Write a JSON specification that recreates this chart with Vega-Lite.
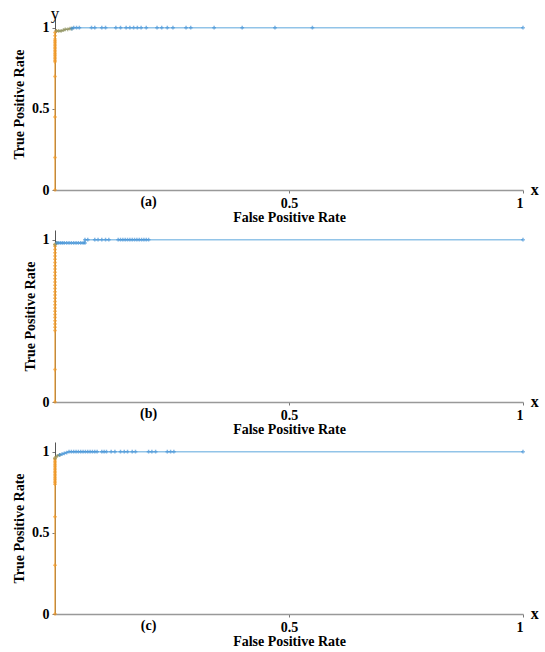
{
  "$schema": "https://vega.github.io/schema/vega-lite/v6.json",
  "padding": {"left": 12, "top": 4, "right": 4, "bottom": 0},
  "spacing": 6,
  "config": {
    "font": "Times New Roman",
    "view": {"stroke": null},
    "axis": {
      "labelFont": "Times New Roman", "titleFont": "Times New Roman",
      "labelFontSize": 14, "labelFontWeight": "bold", "labelColor": "#000",
      "titleFontSize": 14, "titleFontWeight": "bold", "titleColor": "#000",
      "grid": false, "tickSize": 3, "tickColor": "#777"
    }
  },
  "datasets": {
    "a": [
      {"i":0,"fpr":0,"tpr":0,"part":"o"},{"i":1,"fpr":0,"tpr":0.2,"part":"o"},{"i":2,"fpr":0,"tpr":0.45,"part":"o"},{"i":3,"fpr":0,"tpr":0.7,"part":"o"},
      {"i":4,"fpr":0,"tpr":0.79,"part":"o"},{"i":5,"fpr":0,"tpr":0.8,"part":"o"},{"i":6,"fpr":0,"tpr":0.81,"part":"o"},{"i":7,"fpr":0,"tpr":0.82,"part":"o"},
      {"i":8,"fpr":0,"tpr":0.83,"part":"o"},{"i":9,"fpr":0,"tpr":0.84,"part":"o"},{"i":10,"fpr":0,"tpr":0.85,"part":"o"},{"i":11,"fpr":0,"tpr":0.86,"part":"o"},
      {"i":12,"fpr":0,"tpr":0.87,"part":"o"},{"i":13,"fpr":0,"tpr":0.88,"part":"o"},{"i":14,"fpr":0,"tpr":0.89,"part":"o"},{"i":15,"fpr":0,"tpr":0.9,"part":"o"},
      {"i":16,"fpr":0,"tpr":0.91,"part":"o"},{"i":17,"fpr":0,"tpr":0.92,"part":"o"},{"i":18,"fpr":0,"tpr":0.93,"part":"o"},{"i":19,"fpr":0,"tpr":0.95,"part":"o"},
      {"i":20,"fpr":0,"tpr":0.97,"part":"o"},{"i":21,"fpr":0.003,"tpr":0.98,"part":"o"},
      {"i":22,"fpr":0.003,"tpr":0.98,"part":"g"},{"i":23,"fpr":0.008,"tpr":0.98,"part":"g"},{"i":24,"fpr":0.013,"tpr":0.98,"part":"g"},{"i":25,"fpr":0.018,"tpr":0.985,"part":"g"},
      {"i":26,"fpr":0.022,"tpr":0.99,"part":"g"},{"i":27,"fpr":0.027,"tpr":0.99,"part":"g"},{"i":28,"fpr":0.032,"tpr":0.995,"part":"g"},{"i":29,"fpr":0.036,"tpr":0.995,"part":"g"},
      {"i":30,"fpr":0.036,"tpr":0.995,"part":"b"},{"i":31,"fpr":0.04,"tpr":1,"part":"b"},{"i":32,"fpr":0.046,"tpr":1,"part":"b"},{"i":33,"fpr":0.052,"tpr":1,"part":"b"},
      {"i":34,"fpr":0.078,"tpr":1,"part":"b"},{"i":35,"fpr":0.085,"tpr":1,"part":"b"},{"i":36,"fpr":0.1,"tpr":1,"part":"b"},{"i":37,"fpr":0.108,"tpr":1,"part":"b"},
      {"i":38,"fpr":0.13,"tpr":1,"part":"b"},{"i":39,"fpr":0.14,"tpr":1,"part":"b"},{"i":40,"fpr":0.152,"tpr":1,"part":"b"},{"i":41,"fpr":0.16,"tpr":1,"part":"b"},
      {"i":42,"fpr":0.168,"tpr":1,"part":"b"},{"i":43,"fpr":0.176,"tpr":1,"part":"b"},{"i":44,"fpr":0.184,"tpr":1,"part":"b"},{"i":45,"fpr":0.195,"tpr":1,"part":"b"},
      {"i":46,"fpr":0.218,"tpr":1,"part":"b"},{"i":47,"fpr":0.228,"tpr":1,"part":"b"},{"i":48,"fpr":0.24,"tpr":1,"part":"b"},{"i":49,"fpr":0.252,"tpr":1,"part":"b"},
      {"i":50,"fpr":0.28,"tpr":1,"part":"b"},{"i":51,"fpr":0.29,"tpr":1,"part":"b"},{"i":52,"fpr":0.34,"tpr":1,"part":"b"},{"i":53,"fpr":0.4,"tpr":1,"part":"b"},
      {"i":54,"fpr":0.47,"tpr":1,"part":"b"},{"i":55,"fpr":0.55,"tpr":1,"part":"b"},{"i":56,"fpr":1,"tpr":1,"part":"b"}
    ],
    "b": [
      {"i":0,"fpr":0,"tpr":0,"part":"o"},{"i":1,"fpr":0,"tpr":0.2,"part":"o"},{"i":2,"fpr":0,"tpr":0.44,"part":"o"},{"i":3,"fpr":0,"tpr":0.46,"part":"o"},
      {"i":4,"fpr":0,"tpr":0.48,"part":"o"},{"i":5,"fpr":0,"tpr":0.5,"part":"o"},{"i":6,"fpr":0,"tpr":0.52,"part":"o"},{"i":7,"fpr":0,"tpr":0.54,"part":"o"},
      {"i":8,"fpr":0,"tpr":0.56,"part":"o"},{"i":9,"fpr":0,"tpr":0.58,"part":"o"},{"i":10,"fpr":0,"tpr":0.6,"part":"o"},{"i":11,"fpr":0,"tpr":0.62,"part":"o"},
      {"i":12,"fpr":0,"tpr":0.64,"part":"o"},{"i":13,"fpr":0,"tpr":0.66,"part":"o"},{"i":14,"fpr":0,"tpr":0.68,"part":"o"},{"i":15,"fpr":0,"tpr":0.7,"part":"o"},
      {"i":16,"fpr":0,"tpr":0.72,"part":"o"},{"i":17,"fpr":0,"tpr":0.74,"part":"o"},{"i":18,"fpr":0,"tpr":0.76,"part":"o"},{"i":19,"fpr":0,"tpr":0.78,"part":"o"},
      {"i":20,"fpr":0,"tpr":0.8,"part":"o"},{"i":21,"fpr":0,"tpr":0.82,"part":"o"},{"i":22,"fpr":0,"tpr":0.84,"part":"o"},{"i":23,"fpr":0,"tpr":0.86,"part":"o"},
      {"i":24,"fpr":0,"tpr":0.88,"part":"o"},{"i":25,"fpr":0,"tpr":0.9,"part":"o"},{"i":26,"fpr":0,"tpr":0.92,"part":"o"},{"i":27,"fpr":0,"tpr":0.94,"part":"o"},
      {"i":28,"fpr":0,"tpr":0.96,"part":"o"},{"i":29,"fpr":0,"tpr":0.97,"part":"o"},
      {"i":30,"fpr":0,"tpr":0.97,"part":"g"},{"i":31,"fpr":0.004,"tpr":0.98,"part":"g"},
      {"i":32,"fpr":0.004,"tpr":0.98,"part":"b"},{"i":33,"fpr":0.008,"tpr":0.98,"part":"b"},{"i":34,"fpr":0.012,"tpr":0.98,"part":"b"},{"i":35,"fpr":0.016,"tpr":0.98,"part":"b"},
      {"i":36,"fpr":0.02,"tpr":0.98,"part":"b"},{"i":37,"fpr":0.025,"tpr":0.98,"part":"b"},{"i":38,"fpr":0.03,"tpr":0.98,"part":"b"},{"i":39,"fpr":0.035,"tpr":0.98,"part":"b"},
      {"i":40,"fpr":0.04,"tpr":0.98,"part":"b"},{"i":41,"fpr":0.045,"tpr":0.98,"part":"b"},{"i":42,"fpr":0.05,"tpr":0.98,"part":"b"},{"i":43,"fpr":0.055,"tpr":0.98,"part":"b"},
      {"i":44,"fpr":0.06,"tpr":0.98,"part":"b"},{"i":45,"fpr":0.064,"tpr":0.98,"part":"b"},{"i":46,"fpr":0.064,"tpr":1,"part":"b"},{"i":47,"fpr":0.07,"tpr":1,"part":"b"},
      {"i":48,"fpr":0.085,"tpr":1,"part":"b"},{"i":49,"fpr":0.092,"tpr":1,"part":"b"},{"i":50,"fpr":0.1,"tpr":1,"part":"b"},{"i":51,"fpr":0.108,"tpr":1,"part":"b"},
      {"i":52,"fpr":0.115,"tpr":1,"part":"b"},{"i":53,"fpr":0.135,"tpr":1,"part":"b"},{"i":54,"fpr":0.14,"tpr":1,"part":"b"},{"i":55,"fpr":0.145,"tpr":1,"part":"b"},
      {"i":56,"fpr":0.15,"tpr":1,"part":"b"},{"i":57,"fpr":0.155,"tpr":1,"part":"b"},{"i":58,"fpr":0.16,"tpr":1,"part":"b"},{"i":59,"fpr":0.165,"tpr":1,"part":"b"},
      {"i":60,"fpr":0.17,"tpr":1,"part":"b"},{"i":61,"fpr":0.175,"tpr":1,"part":"b"},{"i":62,"fpr":0.18,"tpr":1,"part":"b"},{"i":63,"fpr":0.185,"tpr":1,"part":"b"},
      {"i":64,"fpr":0.19,"tpr":1,"part":"b"},{"i":65,"fpr":0.195,"tpr":1,"part":"b"},{"i":66,"fpr":0.2,"tpr":1,"part":"b"},{"i":67,"fpr":1,"tpr":1,"part":"b"}
    ],
    "c": [
      {"i":0,"fpr":0,"tpr":0,"part":"o"},{"i":1,"fpr":0,"tpr":0.3,"part":"o"},{"i":2,"fpr":0,"tpr":0.6,"part":"o"},{"i":3,"fpr":0,"tpr":0.8,"part":"o"},
      {"i":4,"fpr":0,"tpr":0.81,"part":"o"},{"i":5,"fpr":0,"tpr":0.82,"part":"o"},{"i":6,"fpr":0,"tpr":0.83,"part":"o"},{"i":7,"fpr":0,"tpr":0.84,"part":"o"},
      {"i":8,"fpr":0,"tpr":0.85,"part":"o"},{"i":9,"fpr":0,"tpr":0.86,"part":"o"},{"i":10,"fpr":0,"tpr":0.87,"part":"o"},{"i":11,"fpr":0,"tpr":0.88,"part":"o"},
      {"i":12,"fpr":0,"tpr":0.89,"part":"o"},{"i":13,"fpr":0,"tpr":0.9,"part":"o"},{"i":14,"fpr":0,"tpr":0.91,"part":"o"},{"i":15,"fpr":0,"tpr":0.92,"part":"o"},
      {"i":16,"fpr":0,"tpr":0.93,"part":"o"},{"i":17,"fpr":0,"tpr":0.94,"part":"o"},{"i":18,"fpr":0,"tpr":0.95,"part":"o"},{"i":19,"fpr":0,"tpr":0.96,"part":"o"},
      {"i":20,"fpr":0,"tpr":0.96,"part":"g"},{"i":21,"fpr":0.005,"tpr":0.975,"part":"g"},{"i":22,"fpr":0.01,"tpr":0.98,"part":"g"},
      {"i":23,"fpr":0.01,"tpr":0.98,"part":"b"},{"i":24,"fpr":0.015,"tpr":0.985,"part":"b"},{"i":25,"fpr":0.02,"tpr":0.99,"part":"b"},{"i":26,"fpr":0.025,"tpr":0.995,"part":"b"},
      {"i":27,"fpr":0.03,"tpr":1,"part":"b"},{"i":28,"fpr":0.035,"tpr":1,"part":"b"},{"i":29,"fpr":0.04,"tpr":1,"part":"b"},{"i":30,"fpr":0.045,"tpr":1,"part":"b"},
      {"i":31,"fpr":0.05,"tpr":1,"part":"b"},{"i":32,"fpr":0.055,"tpr":1,"part":"b"},{"i":33,"fpr":0.06,"tpr":1,"part":"b"},{"i":34,"fpr":0.065,"tpr":1,"part":"b"},
      {"i":35,"fpr":0.07,"tpr":1,"part":"b"},{"i":36,"fpr":0.075,"tpr":1,"part":"b"},{"i":37,"fpr":0.08,"tpr":1,"part":"b"},{"i":38,"fpr":0.085,"tpr":1,"part":"b"},
      {"i":39,"fpr":0.09,"tpr":1,"part":"b"},{"i":40,"fpr":0.1,"tpr":1,"part":"b"},{"i":41,"fpr":0.105,"tpr":1,"part":"b"},{"i":42,"fpr":0.11,"tpr":1,"part":"b"},
      {"i":43,"fpr":0.12,"tpr":1,"part":"b"},{"i":44,"fpr":0.128,"tpr":1,"part":"b"},{"i":45,"fpr":0.14,"tpr":1,"part":"b"},{"i":46,"fpr":0.148,"tpr":1,"part":"b"},
      {"i":47,"fpr":0.155,"tpr":1,"part":"b"},{"i":48,"fpr":0.165,"tpr":1,"part":"b"},{"i":49,"fpr":0.172,"tpr":1,"part":"b"},{"i":50,"fpr":0.2,"tpr":1,"part":"b"},
      {"i":51,"fpr":0.207,"tpr":1,"part":"b"},{"i":52,"fpr":0.215,"tpr":1,"part":"b"},{"i":53,"fpr":0.24,"tpr":1,"part":"b"},{"i":54,"fpr":0.247,"tpr":1,"part":"b"},
      {"i":55,"fpr":0.254,"tpr":1,"part":"b"},{"i":56,"fpr":1,"tpr":1,"part":"b"}
    ]
  },
  "vconcat": [
    {
      "width": 468, "height": 172,
      "layer": [
        {
          "data": {"name": "a"},
          "mark": {"type": "line", "strokeWidth": 1.3, "interpolate": "linear"},
          "encoding": {
            "x": {"field": "fpr", "type": "quantitative", "scale": {"domain": [0, 1], "nice": false},
                  "axis": {"values": [0.5, 1], "format": "~g", "title": "False Positive Rate", "domainColor": "#999", "domainWidth": 1.5, "labelPadding": 3, "titlePadding": 0}},
            "y": {"field": "tpr", "type": "quantitative", "scale": {"domain": [0, 1.06], "nice": false},
                  "axis": {"values": [0, 0.5, 1], "format": "~g", "title": "True Positive Rate", "domainColor": "#555", "labelPadding": 3, "titlePadding": 5}},
            "stroke": {"field": "part", "type": "nominal", "scale": {"domain": ["o", "g", "b"], "range": ["#f5a73c", "#a8a274", "#92c4e8"]}, "legend": null},
            "order": {"field": "i", "type": "quantitative"}
          }
        },
        {
          "data": {"name": "a"},
          "mark": {"type": "point", "shape": "cross", "filled": true, "size": 14, "opacity": 0.65, "strokeWidth": 0},
          "encoding": {
            "x": {"field": "fpr", "type": "quantitative"},
            "y": {"field": "tpr", "type": "quantitative"},
            "fill": {"field": "part", "type": "nominal", "scale": {"domain": ["o", "g", "b"], "range": ["#f39a26", "#8f9463", "#3d8fd6"]}, "legend": null}
          }
        },
        {
          "data": {"values": [{"label": "(a)"}]},
          "mark": {"type": "text", "font": "Times New Roman", "fontSize": 14, "fontWeight": "bold", "baseline": "middle", "color": "#000"},
          "encoding": {"x": {"datum": 0.2, "type": "quantitative"}, "y": {"datum": -0.075, "type": "quantitative"}, "text": {"field": "label"}}
        },
        {
          "data": {"values": [{"label": "y"}]},
          "mark": {"type": "text", "font": "Times New Roman", "fontSize": 17, "baseline": "middle", "color": "#000"},
          "encoding": {"x": {"datum": 0, "type": "quantitative"}, "y": {"datum": 1.085, "type": "quantitative"}, "text": {"field": "label"}}
        },
        {
          "data": {"values": [{"label": "x"}]},
          "mark": {"type": "text", "font": "Times New Roman", "fontSize": 16, "fontWeight": "bold", "baseline": "middle", "color": "#000"},
          "encoding": {"x": {"datum": 1.025, "type": "quantitative"}, "y": {"datum": 0, "type": "quantitative"}, "text": {"field": "label"}}
        }
      ]
    },
    {
      "width": 468, "height": 172,
      "layer": [
        {
          "data": {"name": "b"},
          "mark": {"type": "line", "strokeWidth": 1.3},
          "encoding": {
            "x": {"field": "fpr", "type": "quantitative", "scale": {"domain": [0, 1], "nice": false},
                  "axis": {"values": [0.5, 1], "format": "~g", "title": "False Positive Rate", "domainColor": "#999", "domainWidth": 1.5, "labelPadding": 3, "titlePadding": 0}},
            "y": {"field": "tpr", "type": "quantitative", "scale": {"domain": [0, 1.06], "nice": false},
                  "axis": {"values": [0, 1], "format": "~g", "title": "True Positive Rate", "domainColor": "#555", "labelPadding": 3, "titlePadding": 5}},
            "stroke": {"field": "part", "type": "nominal", "scale": {"domain": ["o", "g", "b"], "range": ["#f5a73c", "#a8a274", "#92c4e8"]}, "legend": null},
            "order": {"field": "i", "type": "quantitative"}
          }
        },
        {
          "data": {"name": "b"},
          "mark": {"type": "point", "shape": "cross", "filled": true, "size": 14, "opacity": 0.65, "strokeWidth": 0},
          "encoding": {
            "x": {"field": "fpr", "type": "quantitative"},
            "y": {"field": "tpr", "type": "quantitative"},
            "fill": {"field": "part", "type": "nominal", "scale": {"domain": ["o", "g", "b"], "range": ["#f39a26", "#8f9463", "#3d8fd6"]}, "legend": null}
          }
        },
        {
          "data": {"values": [{"label": "(b)"}]},
          "mark": {"type": "text", "font": "Times New Roman", "fontSize": 14, "fontWeight": "bold", "baseline": "middle", "color": "#000"},
          "encoding": {"x": {"datum": 0.2, "type": "quantitative"}, "y": {"datum": -0.075, "type": "quantitative"}, "text": {"field": "label"}}
        },
        {
          "data": {"values": [{"label": "x"}]},
          "mark": {"type": "text", "font": "Times New Roman", "fontSize": 16, "fontWeight": "bold", "baseline": "middle", "color": "#000"},
          "encoding": {"x": {"datum": 1.025, "type": "quantitative"}, "y": {"datum": 0, "type": "quantitative"}, "text": {"field": "label"}}
        }
      ]
    },
    {
      "width": 468, "height": 172,
      "layer": [
        {
          "data": {"name": "c"},
          "mark": {"type": "line", "strokeWidth": 1.3},
          "encoding": {
            "x": {"field": "fpr", "type": "quantitative", "scale": {"domain": [0, 1], "nice": false},
                  "axis": {"values": [0.5, 1], "format": "~g", "title": "False Positive Rate", "domainColor": "#999", "domainWidth": 1.5, "labelPadding": 3, "titlePadding": 0}},
            "y": {"field": "tpr", "type": "quantitative", "scale": {"domain": [0, 1.06], "nice": false},
                  "axis": {"values": [0, 0.5, 1], "format": "~g", "title": "True Positive Rate", "domainColor": "#555", "labelPadding": 3, "titlePadding": 5}},
            "stroke": {"field": "part", "type": "nominal", "scale": {"domain": ["o", "g", "b"], "range": ["#f5a73c", "#a8a274", "#92c4e8"]}, "legend": null},
            "order": {"field": "i", "type": "quantitative"}
          }
        },
        {
          "data": {"name": "c"},
          "mark": {"type": "point", "shape": "cross", "filled": true, "size": 14, "opacity": 0.65, "strokeWidth": 0},
          "encoding": {
            "x": {"field": "fpr", "type": "quantitative"},
            "y": {"field": "tpr", "type": "quantitative"},
            "fill": {"field": "part", "type": "nominal", "scale": {"domain": ["o", "g", "b"], "range": ["#f39a26", "#8f9463", "#3d8fd6"]}, "legend": null}
          }
        },
        {
          "data": {"values": [{"label": "(c)"}]},
          "mark": {"type": "text", "font": "Times New Roman", "fontSize": 14, "fontWeight": "bold", "baseline": "middle", "color": "#000"},
          "encoding": {"x": {"datum": 0.2, "type": "quantitative"}, "y": {"datum": -0.075, "type": "quantitative"}, "text": {"field": "label"}}
        },
        {
          "data": {"values": [{"label": "x"}]},
          "mark": {"type": "text", "font": "Times New Roman", "fontSize": 16, "fontWeight": "bold", "baseline": "middle", "color": "#000"},
          "encoding": {"x": {"datum": 1.025, "type": "quantitative"}, "y": {"datum": 0, "type": "quantitative"}, "text": {"field": "label"}}
        }
      ]
    }
  ]
}
